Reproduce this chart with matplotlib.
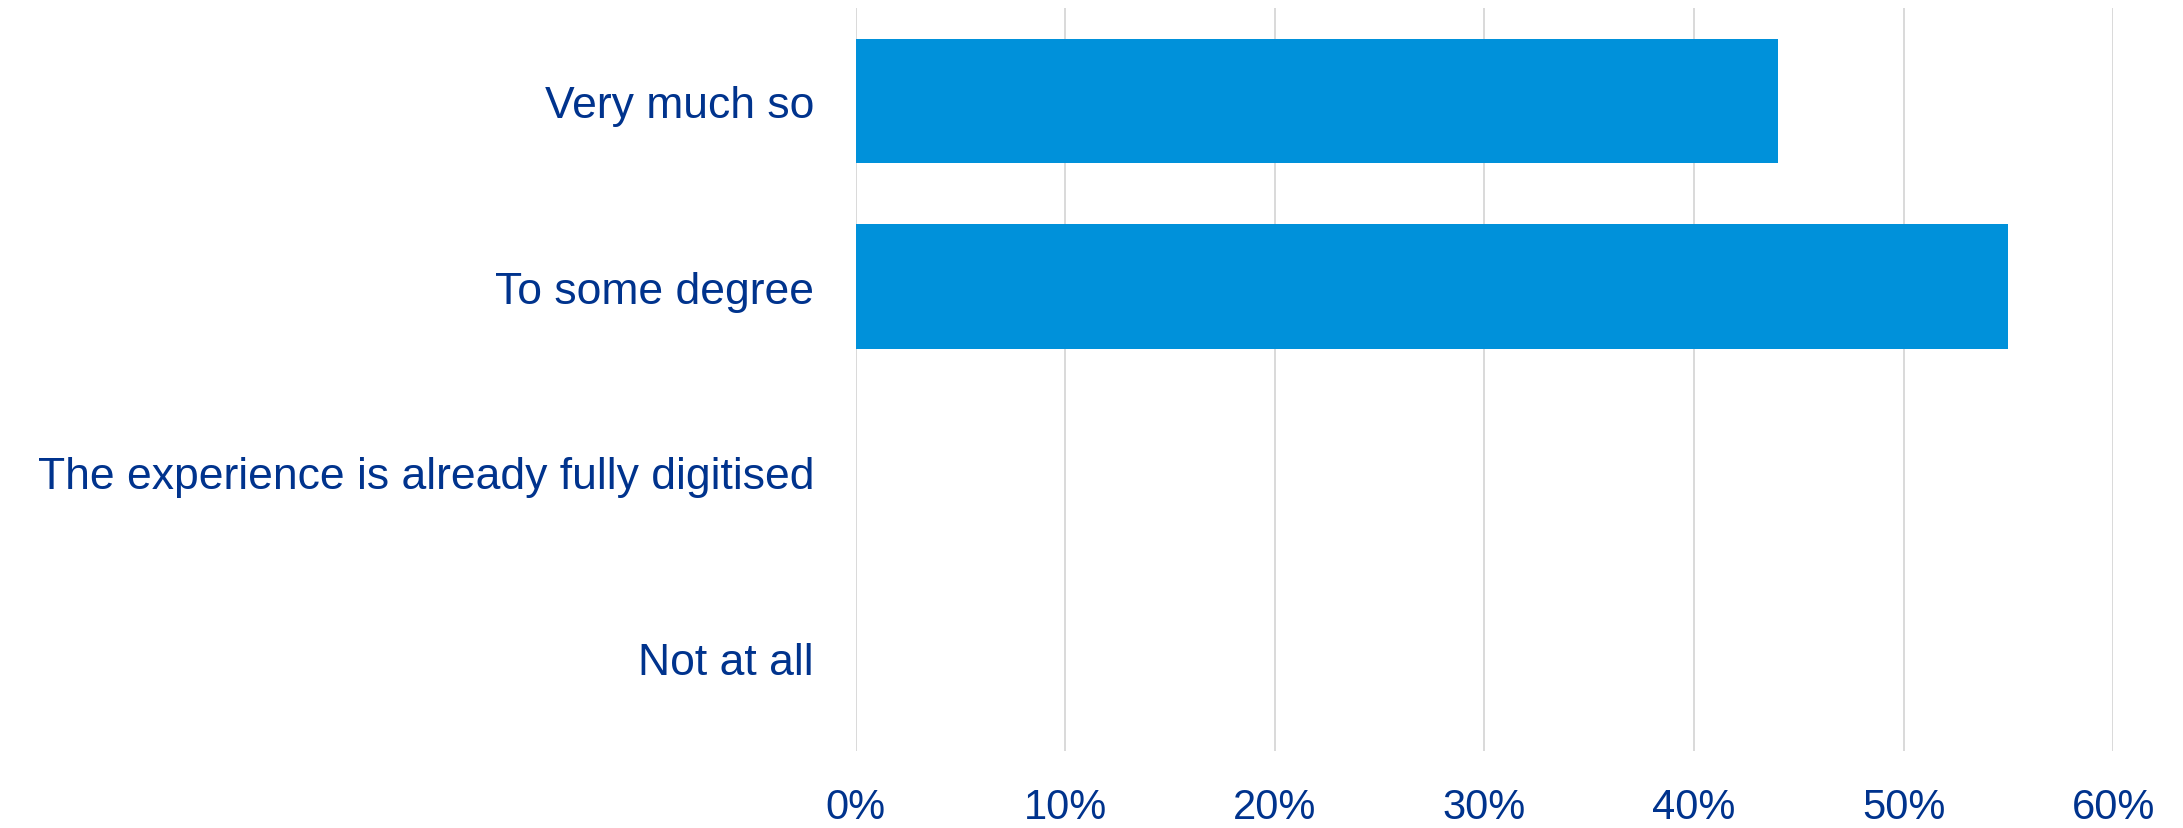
import matplotlib
matplotlib.use("Agg")
import matplotlib.pyplot as plt
from matplotlib.ticker import FuncFormatter
from matplotlib import font_manager

categories = ["Very much so", "To some degree", "The experience is already fully digitised", "Not at all"]
values = [44, 55, 0, 0]
xticks = [0, 10, 20, 30, 40, 50, 60]

names = {f.name for f in font_manager.fontManager.ttflist}
fam = "Liberation Sans Narrow" if "Liberation Sans Narrow" in names else "Liberation Sans"
plt.rcParams['font.family'] = [fam, 'DejaVu Sans']

text_color = "#00338D"
bar_color = "#0091DA"

fig = plt.figure(figsize=(21.83, 8.29), dpi=100)
ax = fig.add_axes([0.392, 0.0929, 0.968 - 0.392, 0.989 - 0.0929])

y = list(range(len(categories)))
ax.barh(y, values, height=0.67, color=bar_color, zorder=3)
ax.set_ylim(len(categories) - 0.5, -0.5)
ax.set_xlim(0, 60)
ax.set_yticks(y)
ax.set_yticklabels(categories, fontsize=32, color=text_color)
ax.set_xticks(xticks)
ax.xaxis.set_major_formatter(FuncFormatter(lambda v, p: f"{v:.0f}%"))
for lab in ax.get_xticklabels():
    lab.set_fontsize(30)
    lab.set_color(text_color)
ax.tick_params(axis='both', length=0)
ax.tick_params(axis='y', pad=30)
ax.tick_params(axis='x', pad=26)
for s in ax.spines.values():
    s.set_visible(False)
ax.grid(axis='x', color="#D9D9D9", linewidth=1.4, zorder=0)
ax.grid(axis='y', visible=False)

fig.savefig("out.png", dpi=100)
